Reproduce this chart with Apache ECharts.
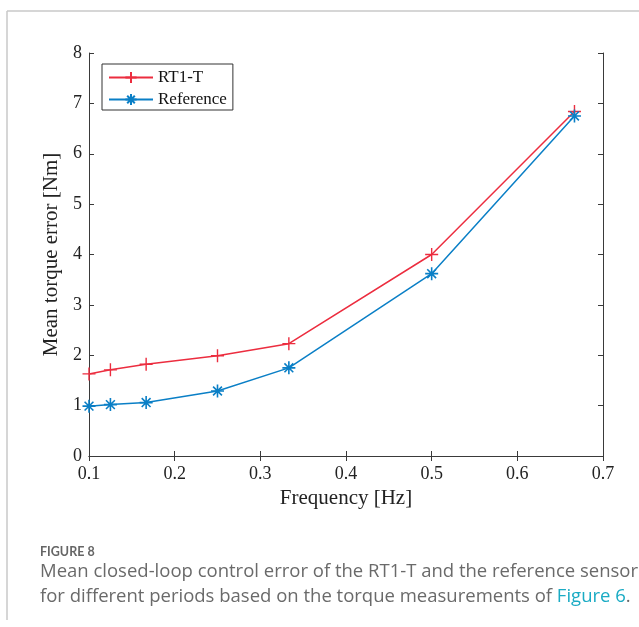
<!DOCTYPE html>
<html>
<head>
<meta charset="utf-8">
<script src="https://cdn.jsdelivr.net/npm/echarts@6/dist/echarts.min.js"></script>
<style>
  html, body { margin: 0; padding: 0; background: #fff; }
  #chart { width: 639px; height: 627px; }
</style>
</head>
<body>
<div id="chart"></div>
<script>
// frequencies in Hz (1/10, 1/8, 1/6, 1/4, 1/3, 1/2, 2/3)
const freq = [0.1, 0.125, 0.1667, 0.25, 0.3333, 0.5, 0.6667]
const rt1t = [1.63, 1.71, 1.82, 1.99, 2.23, 4.0, 6.84]
const reference = [0.99, 1.02, 1.06, 1.29, 1.75, 3.62, 6.75]
const xTicks = ['0.1', '0.2', '0.3', '0.4', '0.5', '0.6', '0.7']
const yTicks = ['0', '1', '2', '3', '4', '5', '6', '7', '8']

const red = '#ec2d3f'
const blue = '#0a7fc6'
const axisColor = '#3a3a3a'
const serif = 'Liberation Serif'

const plusPath = 'path://M5,0L5,10M0,5L10,5'
const starPath = 'path://M5,0L5,10M0,5L10,5M1.6,1.6L8.4,8.4M8.4,1.6L1.6,8.4'

const captionLine1 = 'Mean closed-loop control error of the RT1-T and the reference sensor'
const captionLine2 = 'for different periods based on the torque measurements of {b|Figure 6}.'

// fit caption font so line 1 spans the same width as in the figure
const ctx = document.createElement('canvas').getContext('2d')
ctx.font = '17px "Open Sans"'
const capSize = Math.round(17 * 597 / ctx.measureText(captionLine1).width * 10) / 10

const chart = echarts.init(document.getElementById('chart'))

const pairs = (ys) => freq.map((f, i) => [f, ys[i]])

const boxAxis = {
  axisLine: { show: true, lineStyle: { color: axisColor, width: 1 } },
  axisTick: { show: true, inside: true, length: 5, lineStyle: { color: axisColor } },
  splitLine: { show: false }
}

let option = {
  animation: false,
  grid: { left: 89, right: 36, top: 53, bottom: 171 },
  xAxis: [
    {
      type: 'value', min: 0.1, max: 0.7, interval: 0.1,
      position: 'bottom',
      ...boxAxis,
      axisLabel: {
        margin: 9, color: '#222', fontFamily: serif, fontSize: 18,
        formatter: (v) => xTicks[Math.round((v - 0.1) * 10)]
      },
      name: 'Frequency [Hz]', nameLocation: 'middle', nameGap: 32,
      nameTextStyle: { fontFamily: serif, fontSize: 21, color: '#222' }
    },
    {
      type: 'value', min: 0.1, max: 0.7, interval: 0.1,
      position: 'top',
      ...boxAxis,
      axisLabel: { show: false }
    }
  ],
  yAxis: [
    {
      type: 'value', min: 0, max: 8, interval: 1,
      position: 'left',
      ...boxAxis,
      axisLabel: {
        margin: 7, color: '#222', fontFamily: serif, fontSize: 18,
        formatter: (v) => yTicks[Math.round(v)]
      },
      name: 'Mean torque error [Nm]', nameLocation: 'middle', nameGap: 27,
      nameTextStyle: { fontFamily: serif, fontSize: 21, color: '#222' }
    },
    {
      type: 'value', min: 0, max: 8, interval: 1,
      position: 'right',
      ...boxAxis,
      axisLabel: { show: false }
    }
  ],
  legend: {
    orient: 'vertical',
    left: 102, top: 64,
    padding: [5, 6, 2, 6],
    itemWidth: 44, itemHeight: 14, itemGap: 5,
    backgroundColor: '#fff',
    borderColor: '#333', borderWidth: 1, borderRadius: 0,
    textStyle: { fontFamily: serif, fontSize: 17, color: '#111' },
    data: ['RT1-T', 'Reference']
  },
  series: [
    {
      name: 'RT1-T', type: 'line',
      data: pairs(rt1t),
      symbol: plusPath, symbolSize: 13, showAllSymbol: true,
      lineStyle: { color: red, width: 1.5 },
      itemStyle: { color: red, borderColor: red, borderWidth: 1.4 }
    },
    {
      name: 'Reference', type: 'line',
      data: pairs(reference),
      symbol: starPath, symbolSize: 13, showAllSymbol: true,
      lineStyle: { color: blue, width: 1.5 },
      itemStyle: { color: blue, borderColor: blue, borderWidth: 1.6 }
    }
  ],
  graphic: [
    // page frame
    { type: 'line', shape: { x1: 7, y1: 11, x2: 639, y2: 11 }, style: { stroke: '#c8c8c8', lineWidth: 1.5 } },
    { type: 'line', shape: { x1: 7, y1: 11, x2: 7, y2: 620 }, style: { stroke: '#c8c8c8', lineWidth: 1.5 } },
    // caption
    {
      type: 'text', left: 40, top: 545,
      style: { text: 'FIGURE 8', fontFamily: 'Lato', fontWeight: 'bold', fontSize: 12.5, fill: '#666' }
    },
    {
      type: 'text', left: 40, top: 562,
      style: { text: captionLine1, fontFamily: 'Open Sans', fontSize: capSize, fill: '#6a6a6a' }
    },
    {
      type: 'text', left: 40, top: 587,
      style: {
        text: captionLine2,
        fontFamily: 'Open Sans', fontSize: capSize, fill: '#6a6a6a',
        rich: { b: { fontFamily: 'Open Sans', fontSize: capSize, fill: '#1aabc4', color: '#1aabc4' } }
      }
    }
  ]
}

chart.setOption(option)
</script>
</body>
</html>
